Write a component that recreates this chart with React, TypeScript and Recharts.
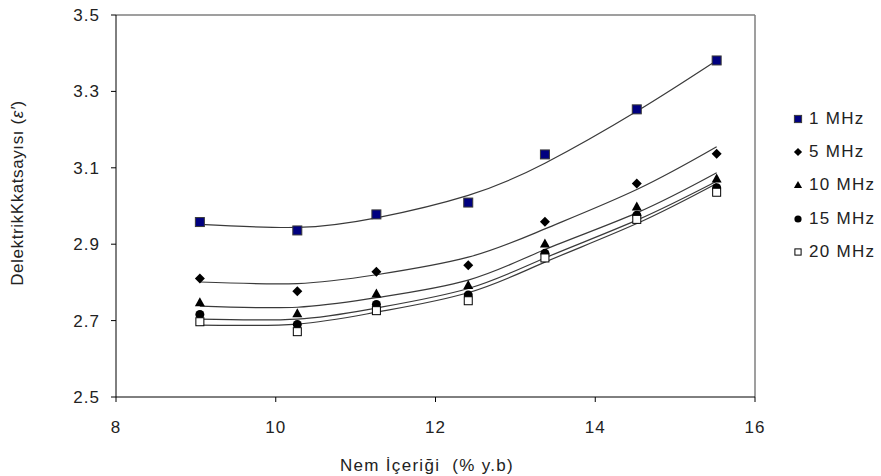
import React from "react";
import {
  ComposedChart, Scatter, Line, XAxis, YAxis, ReferenceLine, Label,
} from "recharts";

// moisture content (% y.b) where the samples were measured
const moisture = [9.05, 10.27, 11.26, 12.41, 13.37, 14.52, 15.52];

// measured dielectric constant per frequency
const mhz1  = [2.958, 2.936, 2.978, 3.009, 3.135, 3.253, 3.381];
const mhz5  = [2.810, 2.777, 2.828, 2.845, 2.959, 3.059, 3.137];
const mhz10 = [2.748, 2.719, 2.771, 2.793, 2.902, 2.999, 3.072];
const mhz15 = [2.716, 2.690, 2.742, 2.767, 2.876, 2.976, 3.048];
const mhz20 = [2.697, 2.671, 2.726, 2.752, 2.864, 2.965, 3.036];

// trend curves at the same moisture values
const fit1  = [2.952, 2.944, 2.969, 3.028, 3.112, 3.248, 3.381];
const fit5  = [2.801, 2.797, 2.820, 2.866, 2.940, 3.043, 3.155];
const fit10 = [2.738, 2.735, 2.760, 2.806, 2.886, 2.982, 3.087];
const fit15 = [2.704, 2.704, 2.733, 2.784, 2.864, 2.963, 3.065];
const fit20 = [2.688, 2.691, 2.722, 2.773, 2.853, 2.954, 3.059];

const seriesNames = ["1 MHz", "5 MHz", "10 MHz", "15 MHz", "20 MHz"];
const xTicks = [8, 10, 12, 14, 16];
const yTicks = [2.5, 2.7, 2.9, 3.1, 3.3, 3.5];

const data = moisture.map((m, i) => ({
  m,
  s1: mhz1[i], s5: mhz5[i], s10: mhz10[i], s15: mhz15[i], s20: mhz20[i],
  f1: fit1[i], f5: fit5[i], f10: fit10[i], f15: fit15[i], f20: fit20[i],
}));

const FONT = "'Liberation Sans', Arial, sans-serif";
const TEXT = "#222";

// marker glyphs
const Marker = ({ kind, cx, cy, s = 1 }: { kind: number; cx: number; cy: number; s?: number }) => {
  const h = 4.5 * s;
  switch (kind) {
    case 0:
      return <rect x={cx - h} y={cy - h} width={2 * h} height={2 * h} fill="#000080" stroke="#3a3a3a" strokeWidth={1} />;
    case 1:
      return <polygon points={`${cx},${cy - h - 0.5} ${cx + h + 0.5},${cy} ${cx},${cy + h + 0.5} ${cx - h - 0.5},${cy}`} fill="#000" />;
    case 2:
      return <polygon points={`${cx},${cy - h - 0.5} ${cx + h + 0.5},${cy + h - 0.5} ${cx - h - 0.5},${cy + h - 0.5}`} fill="#000" />;
    case 3:
      return <circle cx={cx} cy={cy} r={h} fill="#000" />;
    default:
      return <rect x={cx - h + 0.5} y={cy - h + 0.5} width={2 * h - 1} height={2 * h - 1} fill="#fff" stroke="#000" strokeWidth={1} />;
  }
};

const shape = (kind: number) => (p: any) => <Marker kind={kind} cx={p.cx} cy={p.cy} />;

const tickStyle = { fontSize: 17, fill: TEXT, fontFamily: FONT, letterSpacing: 1 };

export default function App() {
  const keys = ["1", "5", "10", "15", "20"];
  return (
    <div style={{ position: "absolute", left: 0, top: 0, width: 881, height: 476, background: "#fff" }}>
      <ComposedChart
        width={881}
        height={476}
        data={data}
        margin={{ top: 15, right: 126, bottom: 49, left: 0 }}
        style={{ fontFamily: FONT }}
      >
        <XAxis
          type="number"
          dataKey="m"
          domain={[8, 16]}
          ticks={xTicks}
          height={30}
          tickSize={5}
          tickMargin={19}
          stroke="#000"
          tick={tickStyle}
        >
          <Label
            content={() => (
              <text
                x={427}
                y={471}
                textAnchor="middle"
                fontSize={17}
                letterSpacing={1.3}
                fill={TEXT}
                fontFamily={FONT}
                style={{ whiteSpace: "pre" }}
              >
                {"Nem İçeriği  (% y.b)"}
              </text>
            )}
          />
        </XAxis>
        <YAxis
          type="number"
          domain={[2.5, 3.5]}
          ticks={yTicks}
          width={116}
          tickSize={5}
          tickMargin={11}
          stroke="#000"
          tick={tickStyle}
          tickFormatter={(v: number) => v.toFixed(1)}
        >
          <Label
            content={() => (
              <text
                x={23}
                y={193}
                textAnchor="middle"
                fontSize={17}
                letterSpacing={0.6}
                fill={TEXT}
                fontFamily={FONT}
                transform="rotate(-90 23 193)"
              >
                DelektrikKkatsayısı (<tspan fontStyle="italic">ε′</tspan>)
              </text>
            )}
          />
        </YAxis>

        <ReferenceLine y={3.5} stroke="#7f7f7f" strokeWidth={1.5} />
        <ReferenceLine x={16} stroke="#7f7f7f" strokeWidth={1.5} />

        {keys.map((k) => (
          <Line
            key={"f" + k}
            type="natural"
            dataKey={"f" + k}
            stroke="#3a3a3a"
            strokeWidth={1.2}
            dot={false}
            activeDot={false}
            legendType="none"
            isAnimationActive={false}
          />
        ))}
        {keys.map((k, i) => (
          <Scatter
            key={"s" + k}
            name={seriesNames[i]}
            dataKey={"s" + k}
            shape={shape(i)}
            isAnimationActive={false}
          />
        ))}
      </ComposedChart>

      {/* legend, right of the plot box */}
      <div style={{ position: "absolute", left: 792, top: 102, display: "flex", flexDirection: "column" }}>
        {seriesNames.map((name, i) => (
          <div key={name} style={{ display: "flex", alignItems: "center", height: "33.4px" }}>
            <svg width={12} height={12} style={{ marginRight: "5px" }}>
              <Marker kind={i} cx={6} cy={6} s={0.8} />
            </svg>
            <span style={{ fontSize: "17px", letterSpacing: "1.3px", color: TEXT, fontFamily: FONT }}>{name}</span>
          </div>
        ))}
      </div>
    </div>
  );
}
